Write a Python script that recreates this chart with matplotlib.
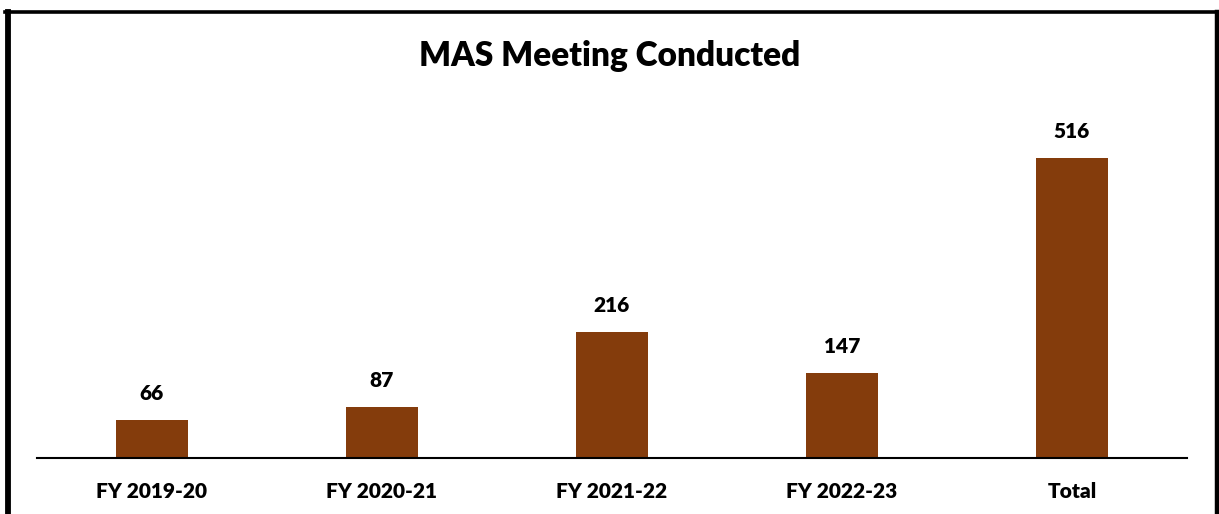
import matplotlib
matplotlib.use("Agg")
import matplotlib.pyplot as plt
from matplotlib.lines import Line2D

categories = ["FY 2019-20", "FY 2020-21", "FY 2021-22", "FY 2022-23", "Total"]
meetings = [66, 87, 216, 147, 516]

BAR_COLOR = "#843C0C"
W, H = 1219, 514

plt.rcParams["font.family"] = ["Lato", "DejaVu Sans"]
plt.rcParams["font.weight"] = "bold"

fig = plt.figure(figsize=(W / 100, H / 100), dpi=100)

# axes placed in pixel terms: baseline at y=458, from x=37 to 1187
y_max = 600
px_per_unit = 300 / 516
ax_h = y_max * px_per_unit
ax = fig.add_axes([37 / W, (H - 458) / H, 1150 / W, ax_h / H])

x = range(len(categories))
bars = ax.bar(x, meetings, width=0.313, color=BAR_COLOR)
ax.set_xlim(-0.5, len(categories) - 0.5)
ax.set_ylim(0, y_max)

for rect, v in zip(bars, meetings):
    ax.annotate(str(v), (rect.get_x() + rect.get_width() / 2, rect.get_height()),
                xytext=(0, 17), textcoords="offset pixels",
                ha="center", va="bottom", fontsize=15, fontweight="heavy")

ax.set_xticks(list(x))
ax.set_xticklabels(categories, fontsize=15, fontweight="heavy")
ax.tick_params(axis="x", length=0, pad=17)
ax.set_yticks([])
for s in ["top", "right", "left"]:
    ax.spines[s].set_visible(False)
ax.spines["bottom"].set_linewidth(1.5)

fig.text(0.5, 1 - 56 / H, "MAS Meeting Conducted", ha="center", va="center",
         fontsize=24, fontweight="heavy")

# outer frame (bottom edge is cut off in the original)
fig.add_artist(Line2D([7.5 / W, 7.5 / W], [0, 1 - 11.5 / H], color="black", lw=4.2,
                      transform=fig.transFigure))
fig.add_artist(Line2D([1216.5 / W, 1216.5 / W], [0, 1 - 11.5 / H], color="black", lw=3.2,
                      transform=fig.transFigure))
fig.add_artist(Line2D([5 / W, 1219 / W], [1 - 11.5 / H, 1 - 11.5 / H], color="black", lw=2.6,
                      transform=fig.transFigure))

fig.savefig("out.png", dpi=100)
